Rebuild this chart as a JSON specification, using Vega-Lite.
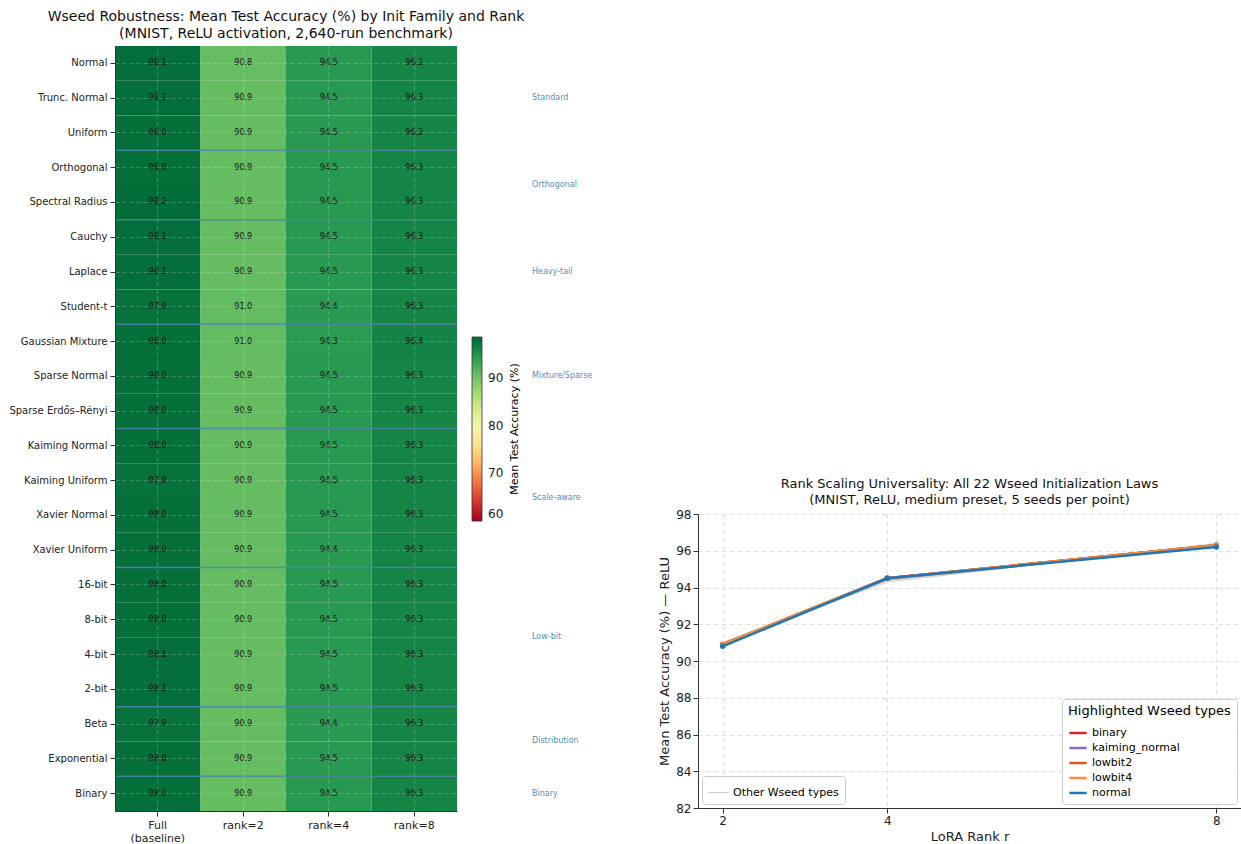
{
  "$schema": "https://vega.github.io/schema/vega-lite/v6.json",
  "padding": {"left": 8, "top": 10, "right": 0, "bottom": 0},
  "config": {
    "font": "DejaVu Sans",
    "view": {"stroke": null},
    "axis": {"titleFontWeight": "normal", "labelColor": "#222222", "titleColor": "#222222", "domainColor": "#333333", "tickColor": "#333333"},
    "title": {"fontWeight": "normal", "color": "#111111"}
  },
  "datasets": {
    "acc": [
      {"init": "Normal", "seed": "normal", "col": "Full (baseline)", "rank": null, "acc": 98.1},
      {"init": "Normal", "seed": "normal", "col": "rank=2", "rank": 2, "acc": 90.8},
      {"init": "Normal", "seed": "normal", "col": "rank=4", "rank": 4, "acc": 94.5},
      {"init": "Normal", "seed": "normal", "col": "rank=8", "rank": 8, "acc": 96.2},
      {"init": "Trunc. Normal", "seed": "trunc_normal", "col": "Full (baseline)", "rank": null, "acc": 98.1},
      {"init": "Trunc. Normal", "seed": "trunc_normal", "col": "rank=2", "rank": 2, "acc": 90.9},
      {"init": "Trunc. Normal", "seed": "trunc_normal", "col": "rank=4", "rank": 4, "acc": 94.5},
      {"init": "Trunc. Normal", "seed": "trunc_normal", "col": "rank=8", "rank": 8, "acc": 96.3},
      {"init": "Uniform", "seed": "uniform", "col": "Full (baseline)", "rank": null, "acc": 98.0},
      {"init": "Uniform", "seed": "uniform", "col": "rank=2", "rank": 2, "acc": 90.9},
      {"init": "Uniform", "seed": "uniform", "col": "rank=4", "rank": 4, "acc": 94.5},
      {"init": "Uniform", "seed": "uniform", "col": "rank=8", "rank": 8, "acc": 96.2},
      {"init": "Orthogonal", "seed": "orthogonal", "col": "Full (baseline)", "rank": null, "acc": 98.0},
      {"init": "Orthogonal", "seed": "orthogonal", "col": "rank=2", "rank": 2, "acc": 90.9},
      {"init": "Orthogonal", "seed": "orthogonal", "col": "rank=4", "rank": 4, "acc": 94.5},
      {"init": "Orthogonal", "seed": "orthogonal", "col": "rank=8", "rank": 8, "acc": 96.3},
      {"init": "Spectral Radius", "seed": "spectral_radius", "col": "Full (baseline)", "rank": null, "acc": 98.2},
      {"init": "Spectral Radius", "seed": "spectral_radius", "col": "rank=2", "rank": 2, "acc": 90.9},
      {"init": "Spectral Radius", "seed": "spectral_radius", "col": "rank=4", "rank": 4, "acc": 94.5},
      {"init": "Spectral Radius", "seed": "spectral_radius", "col": "rank=8", "rank": 8, "acc": 96.3},
      {"init": "Cauchy", "seed": "cauchy", "col": "Full (baseline)", "rank": null, "acc": 98.1},
      {"init": "Cauchy", "seed": "cauchy", "col": "rank=2", "rank": 2, "acc": 90.9},
      {"init": "Cauchy", "seed": "cauchy", "col": "rank=4", "rank": 4, "acc": 94.5},
      {"init": "Cauchy", "seed": "cauchy", "col": "rank=8", "rank": 8, "acc": 96.3},
      {"init": "Laplace", "seed": "laplace", "col": "Full (baseline)", "rank": null, "acc": 98.1},
      {"init": "Laplace", "seed": "laplace", "col": "rank=2", "rank": 2, "acc": 90.9},
      {"init": "Laplace", "seed": "laplace", "col": "rank=4", "rank": 4, "acc": 94.5},
      {"init": "Laplace", "seed": "laplace", "col": "rank=8", "rank": 8, "acc": 96.3},
      {"init": "Student-t", "seed": "student_t", "col": "Full (baseline)", "rank": null, "acc": 97.9},
      {"init": "Student-t", "seed": "student_t", "col": "rank=2", "rank": 2, "acc": 91.0},
      {"init": "Student-t", "seed": "student_t", "col": "rank=4", "rank": 4, "acc": 94.4},
      {"init": "Student-t", "seed": "student_t", "col": "rank=8", "rank": 8, "acc": 96.3},
      {"init": "Gaussian Mixture", "seed": "gaussian_mixture", "col": "Full (baseline)", "rank": null, "acc": 98.0},
      {"init": "Gaussian Mixture", "seed": "gaussian_mixture", "col": "rank=2", "rank": 2, "acc": 91.0},
      {"init": "Gaussian Mixture", "seed": "gaussian_mixture", "col": "rank=4", "rank": 4, "acc": 94.3},
      {"init": "Gaussian Mixture", "seed": "gaussian_mixture", "col": "rank=8", "rank": 8, "acc": 96.4},
      {"init": "Sparse Normal", "seed": "sparse_normal", "col": "Full (baseline)", "rank": null, "acc": 98.0},
      {"init": "Sparse Normal", "seed": "sparse_normal", "col": "rank=2", "rank": 2, "acc": 90.9},
      {"init": "Sparse Normal", "seed": "sparse_normal", "col": "rank=4", "rank": 4, "acc": 94.5},
      {"init": "Sparse Normal", "seed": "sparse_normal", "col": "rank=8", "rank": 8, "acc": 96.3},
      {"init": "Sparse Erdős–Rényi", "seed": "sparse_er", "col": "Full (baseline)", "rank": null, "acc": 98.0},
      {"init": "Sparse Erdős–Rényi", "seed": "sparse_er", "col": "rank=2", "rank": 2, "acc": 90.9},
      {"init": "Sparse Erdős–Rényi", "seed": "sparse_er", "col": "rank=4", "rank": 4, "acc": 94.5},
      {"init": "Sparse Erdős–Rényi", "seed": "sparse_er", "col": "rank=8", "rank": 8, "acc": 96.3},
      {"init": "Kaiming Normal", "seed": "kaiming_normal", "col": "Full (baseline)", "rank": null, "acc": 98.0},
      {"init": "Kaiming Normal", "seed": "kaiming_normal", "col": "rank=2", "rank": 2, "acc": 90.9},
      {"init": "Kaiming Normal", "seed": "kaiming_normal", "col": "rank=4", "rank": 4, "acc": 94.5},
      {"init": "Kaiming Normal", "seed": "kaiming_normal", "col": "rank=8", "rank": 8, "acc": 96.3},
      {"init": "Kaiming Uniform", "seed": "kaiming_uniform", "col": "Full (baseline)", "rank": null, "acc": 97.9},
      {"init": "Kaiming Uniform", "seed": "kaiming_uniform", "col": "rank=2", "rank": 2, "acc": 90.9},
      {"init": "Kaiming Uniform", "seed": "kaiming_uniform", "col": "rank=4", "rank": 4, "acc": 94.5},
      {"init": "Kaiming Uniform", "seed": "kaiming_uniform", "col": "rank=8", "rank": 8, "acc": 96.3},
      {"init": "Xavier Normal", "seed": "xavier_normal", "col": "Full (baseline)", "rank": null, "acc": 98.0},
      {"init": "Xavier Normal", "seed": "xavier_normal", "col": "rank=2", "rank": 2, "acc": 90.9},
      {"init": "Xavier Normal", "seed": "xavier_normal", "col": "rank=4", "rank": 4, "acc": 94.5},
      {"init": "Xavier Normal", "seed": "xavier_normal", "col": "rank=8", "rank": 8, "acc": 96.3},
      {"init": "Xavier Uniform", "seed": "xavier_uniform", "col": "Full (baseline)", "rank": null, "acc": 98.0},
      {"init": "Xavier Uniform", "seed": "xavier_uniform", "col": "rank=2", "rank": 2, "acc": 90.9},
      {"init": "Xavier Uniform", "seed": "xavier_uniform", "col": "rank=4", "rank": 4, "acc": 94.4},
      {"init": "Xavier Uniform", "seed": "xavier_uniform", "col": "rank=8", "rank": 8, "acc": 96.3},
      {"init": "16-bit", "seed": "lowbit16", "col": "Full (baseline)", "rank": null, "acc": 98.0},
      {"init": "16-bit", "seed": "lowbit16", "col": "rank=2", "rank": 2, "acc": 90.9},
      {"init": "16-bit", "seed": "lowbit16", "col": "rank=4", "rank": 4, "acc": 94.5},
      {"init": "16-bit", "seed": "lowbit16", "col": "rank=8", "rank": 8, "acc": 96.3},
      {"init": "8-bit", "seed": "lowbit8", "col": "Full (baseline)", "rank": null, "acc": 98.0},
      {"init": "8-bit", "seed": "lowbit8", "col": "rank=2", "rank": 2, "acc": 90.9},
      {"init": "8-bit", "seed": "lowbit8", "col": "rank=4", "rank": 4, "acc": 94.5},
      {"init": "8-bit", "seed": "lowbit8", "col": "rank=8", "rank": 8, "acc": 96.3},
      {"init": "4-bit", "seed": "lowbit4", "col": "Full (baseline)", "rank": null, "acc": 98.1},
      {"init": "4-bit", "seed": "lowbit4", "col": "rank=2", "rank": 2, "acc": 90.9},
      {"init": "4-bit", "seed": "lowbit4", "col": "rank=4", "rank": 4, "acc": 94.5},
      {"init": "4-bit", "seed": "lowbit4", "col": "rank=8", "rank": 8, "acc": 96.3},
      {"init": "2-bit", "seed": "lowbit2", "col": "Full (baseline)", "rank": null, "acc": 98.1},
      {"init": "2-bit", "seed": "lowbit2", "col": "rank=2", "rank": 2, "acc": 90.9},
      {"init": "2-bit", "seed": "lowbit2", "col": "rank=4", "rank": 4, "acc": 94.5},
      {"init": "2-bit", "seed": "lowbit2", "col": "rank=8", "rank": 8, "acc": 96.3},
      {"init": "Beta", "seed": "beta", "col": "Full (baseline)", "rank": null, "acc": 97.9},
      {"init": "Beta", "seed": "beta", "col": "rank=2", "rank": 2, "acc": 90.9},
      {"init": "Beta", "seed": "beta", "col": "rank=4", "rank": 4, "acc": 94.4},
      {"init": "Beta", "seed": "beta", "col": "rank=8", "rank": 8, "acc": 96.3},
      {"init": "Exponential", "seed": "exponential", "col": "Full (baseline)", "rank": null, "acc": 98.0},
      {"init": "Exponential", "seed": "exponential", "col": "rank=2", "rank": 2, "acc": 90.9},
      {"init": "Exponential", "seed": "exponential", "col": "rank=4", "rank": 4, "acc": 94.5},
      {"init": "Exponential", "seed": "exponential", "col": "rank=8", "rank": 8, "acc": 96.3},
      {"init": "Binary", "seed": "binary", "col": "Full (baseline)", "rank": null, "acc": 98.0},
      {"init": "Binary", "seed": "binary", "col": "rank=2", "rank": 2, "acc": 90.9},
      {"init": "Binary", "seed": "binary", "col": "rank=4", "rank": 4, "acc": 94.5},
      {"init": "Binary", "seed": "binary", "col": "rank=8", "rank": 8, "acc": 96.3}
    ],
    "inits": [
      {"init": "Normal", "group": "Standard", "idx": 0},
      {"init": "Trunc. Normal", "group": "Standard", "idx": 1},
      {"init": "Uniform", "group": "Standard", "idx": 2},
      {"init": "Orthogonal", "group": "Orthogonal", "idx": 3},
      {"init": "Spectral Radius", "group": "Orthogonal", "idx": 4},
      {"init": "Cauchy", "group": "Heavy-tail", "idx": 5},
      {"init": "Laplace", "group": "Heavy-tail", "idx": 6},
      {"init": "Student-t", "group": "Heavy-tail", "idx": 7},
      {"init": "Gaussian Mixture", "group": "Mixture/Sparse", "idx": 8},
      {"init": "Sparse Normal", "group": "Mixture/Sparse", "idx": 9},
      {"init": "Sparse Erdős–Rényi", "group": "Mixture/Sparse", "idx": 10},
      {"init": "Kaiming Normal", "group": "Scale-aware", "idx": 11},
      {"init": "Kaiming Uniform", "group": "Scale-aware", "idx": 12},
      {"init": "Xavier Normal", "group": "Scale-aware", "idx": 13},
      {"init": "Xavier Uniform", "group": "Scale-aware", "idx": 14},
      {"init": "16-bit", "group": "Low-bit", "idx": 15},
      {"init": "8-bit", "group": "Low-bit", "idx": 16},
      {"init": "4-bit", "group": "Low-bit", "idx": 17},
      {"init": "2-bit", "group": "Low-bit", "idx": 18},
      {"init": "Beta", "group": "Distribution", "idx": 19},
      {"init": "Exponential", "group": "Distribution", "idx": 20},
      {"init": "Binary", "group": "Binary", "idx": 21}
    ]
  },
  "hconcat": [
    {
      "width": 342,
      "height": 765,
      "title": {"text": ["Wseed Robustness: Mean Test Accuracy (%) by Init Family and Rank", "(MNIST, ReLU activation, 2,640-run benchmark)"], "fontSize": 14, "offset": 5, "anchor": "middle", "lineHeight": 17},
      "layer": [
        {
          "data": {"name": "acc"},
          "mark": {"type": "rect"},
          "encoding": {
            "x": {"field": "col", "type": "nominal", "sort": ["Full (baseline)", "rank=2", "rank=4", "rank=8"], "scale": {"paddingInner": 0, "paddingOuter": 0},
              "axis": {"title": null, "labelAngle": 0, "labelFontSize": 11, "labelExpr": "datum.value == 'Full (baseline)' ? ['Full', '(baseline)'] : datum.value", "tickBand": "center", "grid": true, "gridDash": [4, 3], "gridColor": "#ffffff", "gridOpacity": 0.22, "zindex": 1, "labelPadding": 3}},
            "y": {"field": "init", "type": "nominal", "sort": ["Normal", "Trunc. Normal", "Uniform", "Orthogonal", "Spectral Radius", "Cauchy", "Laplace", "Student-t", "Gaussian Mixture", "Sparse Normal", "Sparse Erdős–Rényi", "Kaiming Normal", "Kaiming Uniform", "Xavier Normal", "Xavier Uniform", "16-bit", "8-bit", "4-bit", "2-bit", "Beta", "Exponential", "Binary"], "scale": {"paddingInner": 0, "paddingOuter": 0},
              "axis": {"title": null, "labelFontSize": 10, "tickBand": "center", "grid": true, "gridDash": [4, 3], "gridColor": "#ffffff", "gridOpacity": 0.22, "zindex": 1, "labelPadding": 3}},
            "color": {"field": "acc", "type": "quantitative", "scale": {"scheme": "redyellowgreen", "domain": [60, 98.7]},
              "legend": {"orient": "none", "legendX": 357, "legendY": 291, "direction": "vertical", "gradientLength": 184, "gradientThickness": 10, "values": [60, 70, 80, 90], "labelFontSize": 12, "labelColor": "#222222", "title": "Mean Test Accuracy (%)", "titleOrient": "right", "titleFontSize": 11, "titleFontWeight": "normal", "titleAnchor": "middle", "titlePadding": 6, "gradientStrokeColor": "#333333", "gradientStrokeWidth": 0.8, "labelOffset": 6,
                "encode": {"title": {"update": {"angle": {"value": -90}, "baseline": {"value": "top"}}}}}}
          }
        },
        {
          "data": {"name": "acc"},
          "mark": {"type": "text", "fontSize": 8, "color": "#111111"},
          "encoding": {
            "x": {"field": "col", "type": "nominal", "sort": ["Full (baseline)", "rank=2", "rank=4", "rank=8"]},
            "y": {"field": "init", "type": "nominal", "sort": ["Normal", "Trunc. Normal", "Uniform", "Orthogonal", "Spectral Radius", "Cauchy", "Laplace", "Student-t", "Gaussian Mixture", "Sparse Normal", "Sparse Erdős–Rényi", "Kaiming Normal", "Kaiming Uniform", "Xavier Normal", "Xavier Uniform", "16-bit", "8-bit", "4-bit", "2-bit", "Beta", "Exponential", "Binary"]},
            "text": {"field": "acc", "type": "quantitative", "format": ".1f"}
          }
        },
        {
          "data": {"name": "inits"},
          "transform": [
            {"joinaggregate": [{"op": "min", "field": "idx", "as": "first"}], "groupby": ["group"]},
            {"filter": "datum.idx == datum.first && datum.idx > 0"}
          ],
          "mark": {"type": "rule", "color": "#4a7fa8", "strokeWidth": 1.5, "opacity": 0.8},
          "encoding": {
            "y": {"field": "init", "type": "nominal", "bandPosition": 0, "sort": ["Normal", "Trunc. Normal", "Uniform", "Orthogonal", "Spectral Radius", "Cauchy", "Laplace", "Student-t", "Gaussian Mixture", "Sparse Normal", "Sparse Erdős–Rényi", "Kaiming Normal", "Kaiming Uniform", "Xavier Normal", "Xavier Uniform", "16-bit", "8-bit", "4-bit", "2-bit", "Beta", "Exponential", "Binary"]}
          }
        }
      ]
    },
    {
      "width": 91,
      "height": 765,
      "data": {"name": "inits"},
      "transform": [{"aggregate": [{"op": "mean", "field": "idx", "as": "mid"}], "groupby": ["group"]}],
      "mark": {"type": "text", "align": "left", "baseline": "middle", "fontSize": 8, "color": "#4682b4", "opacity": 0.9},
      "encoding": {
        "y": {"field": "mid", "type": "quantitative", "scale": {"domain": [-0.5, 21.5], "reverse": true, "nice": false, "zero": false}, "axis": null},
        "x": {"datum": 0, "type": "quantitative", "scale": {"domain": [0, 1], "nice": false}, "axis": null},
        "text": {"field": "group", "type": "nominal"}
      }
    },
    {
      "spacing": 20,
      "bounds": "flush",
      "vconcat": [
        {
          "width": 543,
          "height": 448,
          "data": {"values": [{}]},
          "mark": {"type": "text"},
          "encoding": {}
        },
        {
          "width": 543,
          "height": 294,
          "title": {"text": ["Rank Scaling Universality: All 22 Wseed Initialization Laws", "(MNIST, ReLU, medium preset, 5 seeds per point)"], "fontSize": 13, "offset": 1, "anchor": "middle", "lineHeight": 16},
          "data": {"name": "acc"},
          "transform": [{"filter": "isValid(datum.rank)"}],
          "encoding": {
            "x": {"field": "rank", "type": "quantitative", "scale": {"domain": [1.7, 8.3], "nice": false, "zero": false},
              "axis": {"values": [2, 4, 8], "title": "LoRA Rank r", "titleFontSize": 13, "labelFontSize": 12, "grid": true, "gridDash": [4, 4], "gridColor": "#dddddd", "tickSize": 5}},
            "y": {"field": "acc", "type": "quantitative", "scale": {"domain": [82, 98], "nice": false, "zero": false},
              "axis": {"values": [82, 84, 86, 88, 90, 92, 94, 96, 98], "title": "Mean Test Accuracy (%) — ReLU", "titleFontSize": 13, "labelFontSize": 12, "grid": true, "gridDash": [4, 4], "gridColor": "#dddddd", "tickSize": 5}}
          },
          "layer": [
            {
              "transform": [{"filter": {"not": {"field": "seed", "oneOf": ["binary", "kaiming_normal", "lowbit2", "lowbit4", "normal"]}}}],
              "mark": {"type": "line", "strokeWidth": 1, "opacity": 0.6},
              "encoding": {
                "detail": {"field": "seed", "type": "nominal"},
                "color": {"datum": "Other Wseed types", "type": "nominal", "scale": {"range": ["#aaaaaa"]},
                  "legend": {"title": null, "orient": "bottom-left", "offset": 4, "padding": 6, "strokeColor": "#cccccc", "fillColor": "#ffffff", "cornerRadius": 3, "labelFontSize": 11, "symbolType": "stroke", "symbolStrokeWidth": 1, "symbolSize": 400}}
              }
            },
            {
              "layer": [
                {
                  "transform": [{"filter": {"field": "seed", "equal": "binary"}}],
                  "mark": {"type": "line", "strokeWidth": 2.5, "point": {"filled": true, "size": 30}},
                  "encoding": {
                    "color": {"field": "seed", "type": "nominal", "scale": {"domain": ["binary", "kaiming_normal", "lowbit2", "lowbit4", "normal"], "range": ["#d62728", "#9467bd", "#e6550d", "#fd8d3c", "#1f77b4"]},
                      "legend": {"title": "Highlighted Wseed types", "orient": "bottom-right", "offset": 4, "padding": 6, "strokeColor": "#cccccc", "fillColor": "#ffffff", "cornerRadius": 3, "titleFontSize": 13, "titleFontWeight": "normal", "labelFontSize": 11, "symbolType": "stroke", "symbolStrokeWidth": 2.5, "symbolSize": 300, "rowPadding": 0}}
                  }
                },
                {
                  "transform": [{"filter": {"field": "seed", "equal": "kaiming_normal"}}],
                  "mark": {"type": "line", "strokeWidth": 2.5, "point": {"filled": true, "size": 30}},
                  "encoding": {"color": {"field": "seed", "type": "nominal"}}
                },
                {
                  "transform": [{"filter": {"field": "seed", "equal": "lowbit2"}}],
                  "mark": {"type": "line", "strokeWidth": 2.5, "point": {"filled": true, "size": 30}},
                  "encoding": {"color": {"field": "seed", "type": "nominal"}}
                },
                {
                  "transform": [{"filter": {"field": "seed", "equal": "lowbit4"}}],
                  "mark": {"type": "line", "strokeWidth": 2.5, "point": {"filled": true, "size": 30}},
                  "encoding": {"color": {"field": "seed", "type": "nominal"}}
                },
                {
                  "transform": [{"filter": {"field": "seed", "equal": "normal"}}],
                  "mark": {"type": "line", "strokeWidth": 2.5, "point": {"filled": true, "size": 30}},
                  "encoding": {"color": {"field": "seed", "type": "nominal"}}
                }
              ]
            }
          ],
          "resolve": {"scale": {"color": "independent"}}
        }
      ]
    }
  ],
  "spacing": 75,
  "bounds": "flush",
  "resolve": {"scale": {"color": "independent", "x": "independent", "y": "independent"}}
}
